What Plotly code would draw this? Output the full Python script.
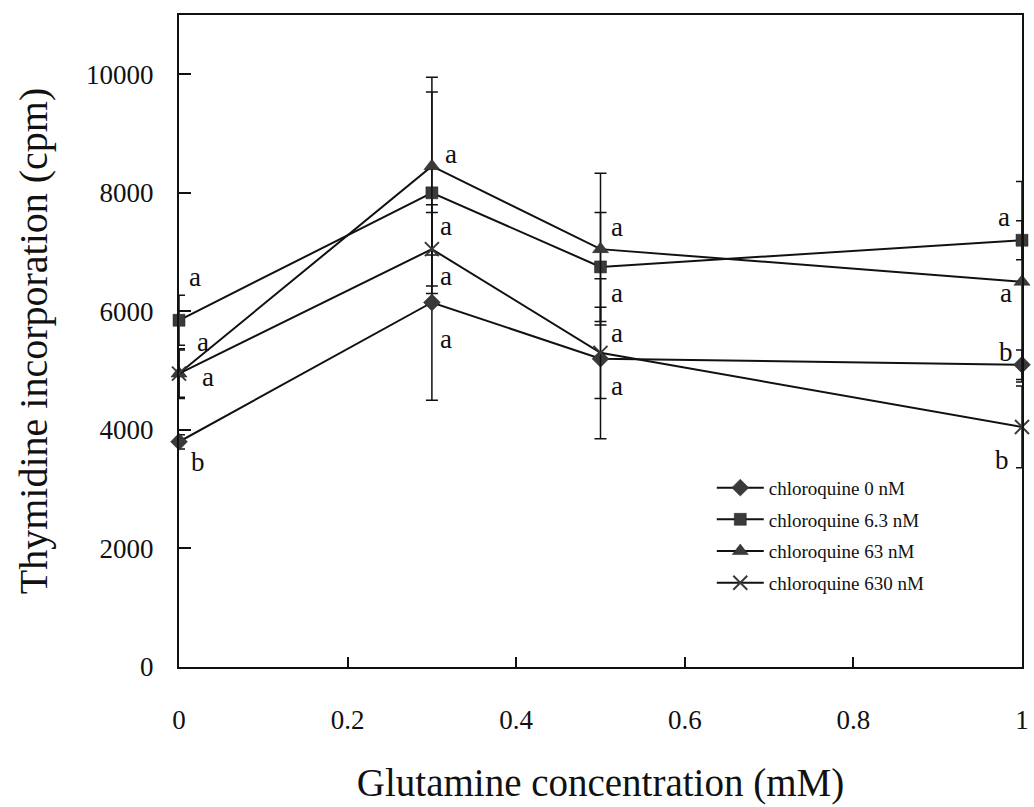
import plotly.graph_objects as go

# ---- data ----
glutamine_mM = [0, 0.3, 0.5, 1.0]
series_names = ["chloroquine 0 nM", "chloroquine 6.3 nM", "chloroquine 63 nM", "chloroquine 630 nM"]
cq_0nM = [3800, 6150, 5200, 5100]
cq_0nM_err = [120, 1650, 1350, 250]
cq_6_3nM = [5850, 8000, 6750, 7200]
cq_6_3nM_err = [420, 1700, 920, 330]
cq_63nM = [4950, 8450, 7050, 6500]
cq_63nM_err = [420, 1500, 1280, 1690]
cq_630nM = [4950, 7050, 5300, 4050]
cq_630nM_err = [400, 620, 770, 690]
sig_0nM = ["b", "a", "a", "b"]
sig_6_3nM = ["a", "a", "a", "a"]
sig_63nM = ["a", "a", "a", "a"]
sig_630nM = ["a", "a", "a", "b"]
y_ticks = [0, 2000, 4000, 6000, 8000, 10000]
y_ticklabels = ["0", "2000", "4000", "6000", "8000", "10000"]
x_ticks = [0, 0.2, 0.4, 0.6, 0.8, 1]
x_ticklabels = ["0", "0.2", "0.4", "0.6", "0.8", "1"]

values = [cq_0nM, cq_6_3nM, cq_63nM, cq_630nM]
errors = [cq_0nM_err, cq_6_3nM_err, cq_63nM_err, cq_630nM_err]
letters = [sig_0nM, sig_6_3nM, sig_63nM, sig_630nM]

# ---- style ----
FONT = "Liberation Serif"
symbols = ["diamond", "square", "triangle-up", "x-thin-open"]
msizes = [13, 12, 14, 14]
# label offsets in px (dx, dy) per series, per x point
label_offsets = [
    [(19, -20), (14, -37), (16, -27), (-16, 13)],
    [(16, 43), (14, -33), (16, -26), (-18, 23)],
    [(24, 32), (19, 12), (16, 22), (-16, -11)],
    [(29, -3), (14, -27), (16, 20), (-20, -33)],
]

fig = go.Figure()
for i in range(4):
    marker = dict(symbol=symbols[i], size=msizes[i], color="#3a3a3a",
                  line=dict(color="#222", width=2 if i == 3 else 0.5))
    fig.add_trace(go.Scatter(
        x=glutamine_mM, y=values[i], name=series_names[i], mode="lines+markers",
        line=dict(color="#111", width=2), marker=marker,
        error_y=dict(type="data", array=errors[i], visible=True, color="#111",
                     thickness=1.5, width=6),
        cliponaxis=False, legendgroup=f"g{i}",
    ))
    for j, xv in enumerate(glutamine_mM):
        dx, dy = label_offsets[i][j]
        fig.add_annotation(x=xv, y=values[i][j], text=letters[i][j], showarrow=False,
                           xshift=dx, yshift=dy, font=dict(family=FONT, size=27, color="#111"))

fig.update_layout(
    width=1034, height=807,
    margin=dict(l=179, r=5, t=15, b=140),
    paper_bgcolor="white", plot_bgcolor="white",
    font=dict(family=FONT, color="#111"),
    showlegend=True,
    legend=dict(x=0.632, y=0.304, xanchor="left", yanchor="top",
                font=dict(family=FONT, size=19, color="#111"),
                bgcolor="rgba(0,0,0,0)", tracegroupgap=4, itemwidth=47),
)
fig.update_xaxes(range=[0, 1], tickvals=x_ticks, ticktext=x_ticklabels,
                 ticks="inside", ticklen=10, tickwidth=1.5, tickcolor="#111",
                 showline=True, linecolor="#111", linewidth=2, mirror=True,
                 showgrid=False, zeroline=False,
                 tickfont=dict(family=FONT, size=27), ticklabelstandoff=28,
                 title=dict(text="Glutamine concentration (mM)", font=dict(family=FONT, size=39), standoff=34))
fig.update_yaxes(range=[0, 11000], tickvals=y_ticks, ticktext=y_ticklabels,
                 ticks="inside", ticklen=12, tickwidth=1.5, tickcolor="#111",
                 showline=True, linecolor="#111", linewidth=2, mirror=True,
                 showgrid=False, zeroline=False,
                 tickfont=dict(family=FONT, size=27), ticklabelstandoff=18,
                 title=dict(text="Thymidine incorporation (cpm)", font=dict(family=FONT, size=40), standoff=26))

fig.write_html("out.html")
